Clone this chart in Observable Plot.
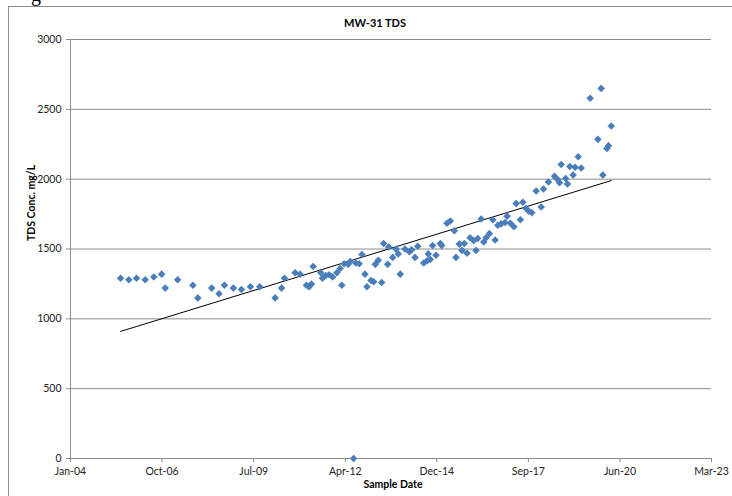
<!DOCTYPE html>
<html>
<head>
<meta charset="utf-8">
<script src="https://cdn.jsdelivr.net/npm/d3@7"></script>
<script src="https://cdn.jsdelivr.net/npm/@observablehq/plot@0.6"></script>
<style>
  html, body { margin: 0; padding: 0; background: #fff; }
  #wrap { position: relative; width: 732px; height: 496px; overflow: hidden; }
  #frame { position: absolute; left: 8px; top: 6px; right: -2px; bottom: -2px; border-top: 1px solid #8c8c8c; border-left: 1px solid #8c8c8c; pointer-events: none; }
  #glyph { position: absolute; left: 31px; top: -17px; font: 20px "Liberation Serif", serif; color: #000; }
  #chart { position: absolute; left: 0; top: 0; }
</style>
</head>
<body>
<div id="wrap"><div id="frame"></div><div id="glyph">g</div><div id="chart"></div></div>
<script>
const sampleDates = [
  "2005-07-15","2005-10-13","2006-01-05","2006-04-10","2006-07-13","2006-10-06","2006-11-15","2007-03-30",
  "2007-09-13","2007-11-06","2008-04-05","2008-06-24","2008-08-22","2008-11-28","2009-02-24","2009-06-02",
  "2009-09-12","2010-02-27","2010-05-08","2010-06-09","2010-10-03","2010-11-27","2011-02-04","2011-03-05",
  "2011-03-31","2011-04-18","2011-07-11","2011-07-29","2011-09-04","2011-10-10","2011-11-16","2012-01-02",
  "2012-02-07","2012-02-25","2012-03-22","2012-05-05","2012-05-27","2012-07-03","2012-07-28","2012-09-02",
  "2012-10-02","2012-11-04","2012-11-26","2013-01-09","2013-02-07","2013-02-25","2013-03-29","2013-05-06",
  "2013-05-27","2013-07-10","2013-07-21","2013-09-03","2013-10-09","2013-11-03","2013-11-25","2014-01-15",
  "2014-03-04","2014-03-29","2014-05-05","2014-06-03","2014-08-08","2014-09-13","2014-09-27","2014-10-19",
  "2014-11-13","2014-12-20","2015-02-05","2015-02-20","2015-04-19","2015-05-25","2015-07-08","2015-07-26",
  "2015-09-01","2015-09-30","2015-10-25","2015-11-24","2015-12-27","2016-02-05","2016-03-01","2016-03-20",
  "2016-04-26","2016-05-25","2016-06-19","2016-07-25","2016-09-01","2016-09-26","2016-10-25","2016-12-01",
  "2017-01-13","2017-02-04","2017-03-12","2017-04-18","2017-05-14","2017-06-29","2017-07-25","2017-08-30",
  "2017-09-29","2017-11-01","2017-12-18","2018-02-11","2018-03-08","2018-05-01","2018-07-06","2018-08-12",
  "2018-08-30","2018-09-17","2018-11-05","2018-11-25","2018-12-21","2019-01-26","2019-02-17","2019-03-22",
  "2019-04-24","2019-07-31","2019-10-23","2019-11-28","2019-12-16","2020-01-30","2020-02-16","2020-03-17"
];
const tdsValues = [
  1290,1280,1290,1280,1300,1320,1220,1280,
  1240,1150,1220,1180,1240,1220,1210,1230,
  1230,1150,1220,1290,1330,1320,1240,1230,
  1250,1375,1330,1290,1310,1315,1300,1330,
  1360,1240,1395,1390,1410,0,1400,1395,
  1460,1320,1230,1275,1265,1390,1420,1260,
  1540,1390,1515,1440,1500,1465,1320,1500,
  1480,1495,1440,1520,1400,1415,1465,1425,
  1525,1455,1540,1525,1685,1700,1630,1440,
  1535,1490,1540,1470,1580,1560,1490,1575,
  1715,1550,1580,1610,1710,1565,1670,1680,
  1690,1735,1685,1660,1825,1710,1835,1790,
  1770,1760,1915,1800,1930,1980,2020,1995,
  1975,2105,2005,1965,2090,2030,2085,2160,
  2080,2580,2285,2650,2030,2220,2240,2380
];
const trendDates = ["2005-07-15", "2020-03-17"];
const trendValues = [910, 1990];
const yTicks = [0, 500, 1000, 1500, 2000, 2500, 3000];
const xTickDates = ["2004-01-15","2006-10-11","2009-07-08","2012-04-03","2014-12-29","2017-09-24","2020-06-20","2023-03-17"];
const xDomain = ["2004-01-15", "2023-03-17"];
const chartTitle = "MW-31 TDS";
const xTitle = "Sample Date";
const yTitle = "TDS Conc. mg/L";

const points = sampleDates.map((d, i) => ({date: new Date(d), tds: tdsValues[i]}));
const trend = trendDates.map((d, i) => ({date: new Date(d), tds: trendValues[i]}));
const xt = xTickDates.map(d => new Date(d));
const fmt = d3.utcFormat("%b-%y");
const font = "Lato, 'Open Sans', sans-serif";

const chart = Plot.plot({
  width: 732,
  height: 496,
  marginLeft: 70,
  marginRight: 21,
  marginTop: 39,
  marginBottom: 38,
  style: {fontFamily: font, fontSize: "10.5px", color: "#000", background: "transparent"},
  x: {type: "utc", domain: xDomain.map(d => new Date(d)), label: null},
  y: {domain: [0, 3000], label: null},
  marks: [
    Plot.gridY(yTicks, {stroke: "#8c8c8c", strokeOpacity: 1}),
    Plot.ruleX([new Date(xDomain[0])], {stroke: "#8c8c8c"}),
    Plot.ruleY([0], {stroke: "#8c8c8c"}),
    Plot.axisY({ticks: yTicks, tickFormat: d3.format("d"), tickSize: 4, tickPadding: 5, stroke: "#8c8c8c", fill: "#222", label: null}),
    Plot.axisX({ticks: xt, tickFormat: fmt, tickSize: 4, tickPadding: 5, stroke: "#8c8c8c", fill: "#222", label: null}),
    Plot.line(trend, {x: "date", y: "tds", stroke: "#000", strokeWidth: 1}),
    Plot.dot(points, {x: "date", y: "tds", symbol: "diamond2", r: 3.4, fill: "#4a7ebb", stroke: "none"}),
    Plot.text([chartTitle], {frameAnchor: "top", dx: -16, dy: -20, fontWeight: "bold", fontSize: 11, fill: "#000"}),
    Plot.text([xTitle], {frameAnchor: "bottom", dx: 2, dy: 29, fontWeight: "bold", fontSize: 10.5, fill: "#000"}),
    Plot.text([yTitle], {frameAnchor: "left", dx: -39, dy: -8, rotate: -90, fontWeight: "bold", fontSize: 10.5, fill: "#000"})
  ]
});
document.getElementById("chart").appendChild(chart);
</script>
</body>
</html>
